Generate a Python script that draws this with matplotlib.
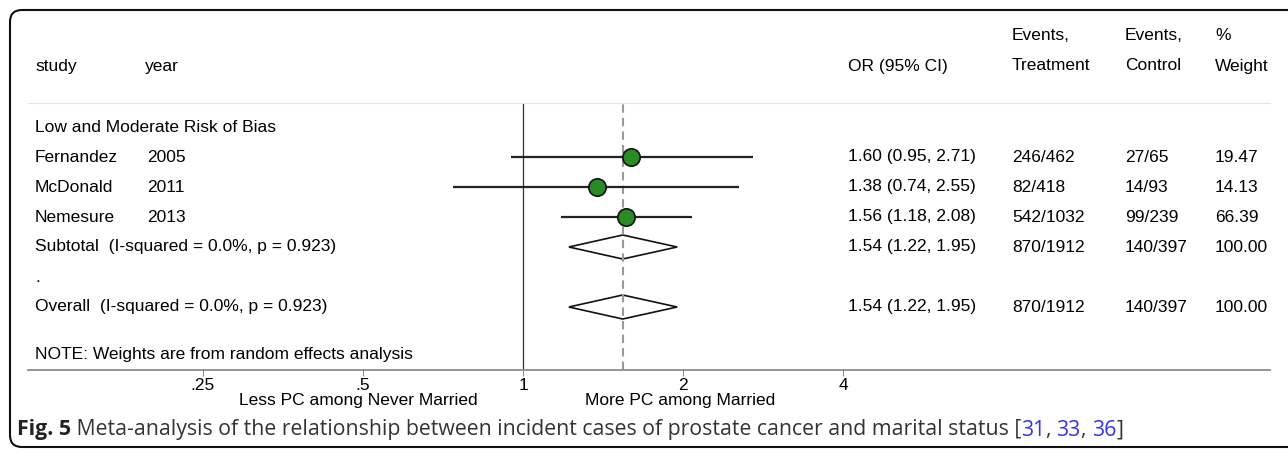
import matplotlib
matplotlib.use("Agg")
from matplotlib import pyplot as plt
import matplotlib.transforms as mtransforms
from matplotlib.patches import FancyBboxPatch
import numpy as np

# data
studies = ['Fernandez', 'McDonald', 'Nemesure']
years = ['2005', '2011', '2013']
or_est = [1.60, 1.38, 1.56]
ci_lo = [0.95, 0.74, 1.18]
ci_hi = [2.71, 2.55, 2.08]
ev_trt = ['246/462', '82/418', '542/1032']
ev_ctl = ['27/65', '14/93', '99/239']
weights = [19.47, 14.13, 66.39]
pooled_or = 1.54
pooled_lo = 1.22
pooled_hi = 1.95
pooled_trt = '870/1912'
pooled_ctl = '140/397'
pooled_w = 100.00
i2_text = '(I-squared = 0.0%, p = 0.923)'
xticks = [0.25, 0.5, 1, 2, 4]
xticklabels = ['.25', '.5', '1', '2', '4']

W, H = 1288, 453
plt.rcParams['font.family'] = ['Liberation Sans', 'DejaVu Sans']
fs = 12.5
fig = plt.figure(figsize=(W / 100, H / 100), dpi=100)

# axes: x pixel 28..1270, y pixel 103..370
ax = fig.add_axes([28 / W, 1 - 370 / H, (1270 - 28) / W, (370 - 103) / H])
ax.set_xscale('log', base=2)
ax.set_xlim(2 ** ((28 - 523) / 160), 2 ** ((1270 - 523) / 160))
ax.set_ylim(8.1, -0.8)

for s in ['left', 'right']:
    ax.spines[s].set_visible(False)
ax.spines['top'].set_color('#e4e4e4')
ax.spines['bottom'].set_color('#8c8c8c')
ax.spines['bottom'].set_linewidth(1.3)
ax.set_yticks([])
ax.set_xticks(xticks)
ax.set_xticklabels(xticklabels, fontsize=fs)
ax.minorticks_off()
ax.tick_params(axis='x', length=4, color='#8c8c8c', pad=1.5)

ax.axvline(1, color='#333333', lw=0.9)
ax.axvline(pooled_or, color='#999999', lw=1.5, ls=(0, (4, 2.5)))

rows = np.arange(1, 4)
ax.hlines(rows, ci_lo, ci_hi, color='#222222', lw=1.6)
ax.plot(or_est, rows, 'o', ms=12.5, mfc='#2a8a24', mec='#111111', mew=1.2)

for yy in [4, 6]:
    ax.fill([pooled_lo, pooled_or, pooled_hi, pooled_or],
            [yy, yy - 0.4, yy, yy + 0.4], fc='white', ec='#111111', lw=1.2)

tr = mtransforms.blended_transform_factory(fig.transFigure, ax.transData)
def put(px, row, txt, **kw):
    ax.text(px / W, row, txt, transform=tr, fontsize=fs, va='center',
            ha='left', clip_on=False, **kw)

put(35, 0, 'Low and Moderate Risk of Bias')
for i in range(3):
    put(35, rows[i], studies[i])
    put(147, rows[i], years[i])
    put(848, rows[i], '%.2f (%.2f, %.2f)' % (or_est[i], ci_lo[i], ci_hi[i]))
    put(1012, rows[i], ev_trt[i])
    put(1125, rows[i], ev_ctl[i])
    put(1215, rows[i], '%.2f' % weights[i])
for yy, lab in [(4, 'Subtotal'), (6, 'Overall')]:
    put(35, yy, lab + '  ' + i2_text)
    put(848, yy, '%.2f (%.2f, %.2f)' % (pooled_or, pooled_lo, pooled_hi))
    put(1012, yy, pooled_trt)
    put(1125, yy, pooled_ctl)
    put(1215, yy, '%.2f' % pooled_w)
put(35, 5, '.')
put(35, 7.57, 'NOTE: Weights are from random effects analysis')

# header
def ftext(px, py, txt, **kw):
    fig.text(px / W, 1 - py / H, txt, fontsize=fs, va='center', **kw)

ftext(35, 67, 'study')
ftext(145, 67, 'year')
ftext(848, 66, 'OR (95% CI)')
ftext(1012, 36, 'Events,')
ftext(1012, 66, 'Treatment')
ftext(1125, 36, 'Events,')
ftext(1125, 66, 'Control')
ftext(1215, 36, '%')
ftext(1215, 66, 'Weight')

ftext(358, 401, 'Less PC among Never Married', ha='center')
ftext(680, 401, 'More PC among Married', ha='center')

# frame
frame = FancyBboxPatch((0.10, 0.06), 13.5, 4.37, transform=fig.dpi_scale_trans,
                       boxstyle='round,pad=0,rounding_size=0.12',
                       fc='none', ec='#111111', lw=1.5)
fig.patches.append(frame)

# caption pieces
cap_fs = 15.3
renderer = fig.canvas.get_renderer()
pieces = [('Fig. 5', 'bold', '#222222'),
          (' Meta-analysis of the relationship between incident cases of prostate cancer and marital status [', 'normal', '#333333'),
          ('31', 'normal', '#3333ee'), (', ', 'normal', '#333333'),
          ('33', 'normal', '#3333ee'), (', ', 'normal', '#333333'),
          ('36', 'normal', '#3333ee'), (']', 'normal', '#333333')]
xpix = 17
for txt, wt, col in pieces:
    t = fig.text(xpix / W, 1 - 430 / H, txt, fontsize=cap_fs, weight=wt,
                 color=col, va='center', family=['Open Sans', 'DejaVu Sans'])
    bb = t.get_window_extent(renderer)
    xpix += bb.width

fig.savefig('out.png', dpi=100)
